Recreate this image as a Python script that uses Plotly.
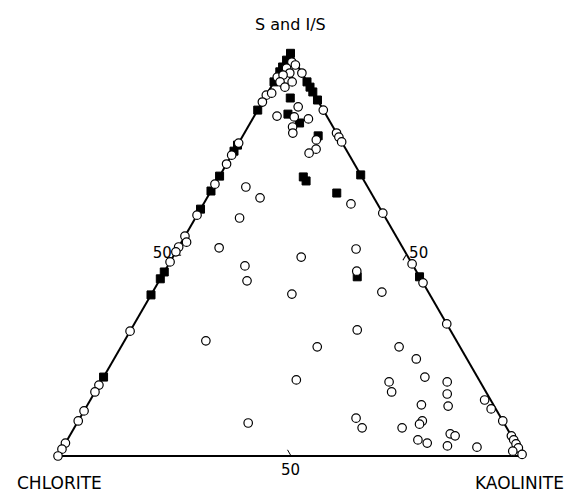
import plotly.graph_objects as go

# Ternary data: (S and I/S, Chlorite, Kaolinite) in percent
# Open circles
open_s = [89.6, 87.9, 77.7, 74.7, 72.5, 67.5, 59.8, 54.6, 51.9, 50.7, 48.2, 31.0, 17.6, 15.9, 11.2, 8.7, 3.2, 1.7, 0.0,
          53.1, 94.1,
          95.1, 85.9, 80.2, 79.2, 78.0, 60.3, 47.7, 43.0, 32.8, 8.7, 5.0, 4.0, 3.0, 2.0, 0.4,
          97.8, 97.1, 96.3, 95.1, 94.6, 92.9, 91.6, 92.9, 90.1, 86.7, 84.4, 84.2, 83.7, 81.7, 80.2, 78.5, 76.2, 75.2,
          62.6, 66.8, 64.1, 59.1, 51.7, 47.2, 43.5, 49.4, 40.2, 51.4, 45.9, 40.7, 31.3, 28.6, 27.1, 18.9, 8.2, 9.4, 7.0,
          27.1, 24.1, 19.6, 18.4, 15.9, 18.4, 15.4, 12.4, 12.7, 8.7, 7.9, 7.0, 4.0, 3.2, 5.5, 5.0, 2.5, 2.2, 13.9, 11.7, 1.2]
open_chl = [10.4, 12.1, 22.3, 25.3, 27.5, 32.5, 40.2, 45.4, 48.1, 49.3, 51.8, 69.0, 82.4, 84.1, 88.8, 91.3, 96.8, 98.3, 100.0,
            45.8, 5.8,
            0, 0, 0, 0, 0, 0, 0, 0, 0, 0, 0, 0, 0, 0, 0,
            0.8, 0.4, 2.7, 2.6, 4.3, 5.8, 5.4, 3.2, 9.0, 5.0, 10.7, 7.1, 4.3, 8.7, 9.4, 5.2, 6.4, 8.4,
            5.7, 26.2, 24.5, 31.4, 39.5, 36.2, 37.6, 23.0, 29.6, 10.2, 12.8, 10.0, 20.0, 53.9, 30.7, 39.3, 55.0, 31.2, 31.1,
            13.1, 10.9, 11.3, 19.6, 20.3, 7.1, 8.6, 9.9, 15.5, 17.3, 18.3, 22.5, 20.6, 19.0, 12.9, 12.1, 15.0, 8.8, 1.3, 1.0, 1.6]
open_kao = [0, 0, 0, 0, 0, 0, 0, 0, 0, 0, 0, 0, 0, 0, 0, 0, 0, 0, 0,
            1.1, 0.1,
            4.9, 14.1, 19.8, 20.8, 22.0, 39.7, 52.3, 57.0, 67.2, 91.3, 95.0, 96.0, 97.0, 98.0, 99.6,
            1.4, 2.5, 1.0, 2.3, 1.1, 1.3, 3.0, 3.9, 0.9, 8.3, 4.9, 8.7, 12.0, 9.6, 10.4, 16.3, 17.4, 16.4,
            31.7, 7.0, 11.4, 9.5, 8.8, 16.6, 18.9, 27.6, 30.2, 38.4, 41.3, 49.3, 48.7, 17.5, 42.2, 41.8, 36.8, 59.4, 61.9,
            59.8, 65.0, 69.1, 62.0, 63.8, 74.5, 76.0, 77.7, 71.8, 74.0, 73.8, 70.5, 75.4, 77.8, 81.6, 82.9, 82.5, 89.0, 84.8, 87.3, 97.2]

# Filled squares
fill_s = [100.0, 98.3, 96.6, 95.4, 92.9, 85.9, 77.2, 75.7, 69.5, 65.8, 61.3, 45.7, 44.0, 40.0, 19.6,
          92.9, 91.6, 90.4, 88.4, 69.8, 44.5,
          88.9, 84.9, 82.7, 79.5, 69.3, 68.3, 65.3, 44.5]
fill_chl = [0.0, 1.7, 3.4, 4.6, 7.1, 14.1, 22.8, 24.3, 30.5, 34.2, 38.7, 54.3, 56.0, 60.0, 80.4,
            0, 0, 0, 0, 0, 0,
            5.6, 8.1, 6.7, 4.3, 12.6, 12.5, 7.4, 13.4]
fill_kao = [0, 0, 0, 0, 0, 0, 0, 0, 0, 0, 0, 0, 0, 0, 0,
            7.1, 8.4, 9.6, 11.6, 30.2, 55.5,
            5.5, 7.0, 10.6, 16.2, 18.1, 19.2, 27.3, 42.1]

tick_vals = [50]
tick_text = ["50"]

FONT = "DejaVu Sans"

fig = go.Figure()
fig.add_trace(go.Scatterternary(
    a=fill_s, b=fill_chl, c=fill_kao, mode="markers", cliponaxis=False,
    marker=dict(symbol="square", size=8, color="black", line=dict(color="black", width=1)),
    hoverinfo="skip", showlegend=False))
fig.add_trace(go.Scatterternary(
    a=open_s, b=open_chl, c=open_kao, mode="markers", cliponaxis=False,
    marker=dict(symbol="circle", size=8.5, color="white", line=dict(color="black", width=1.2)),
    hoverinfo="skip", showlegend=False))

axis_common = dict(
    title=dict(text=""),
    showgrid=False, showline=True, linecolor="black", linewidth=2,
    tickmode="array", tickvals=tick_vals, ticktext=tick_text,
    ticks="inside", ticklen=6, tickwidth=1.2, tickcolor="black",
    tickfont=dict(family=FONT, size=15, color="black"),
    min=0, layer="below traces",
)

fig.update_layout(
    width=577, height=493,
    margin=dict(l=0, r=0, t=0, b=0),
    paper_bgcolor="white",
    ternary=dict(
        sum=100,
        bgcolor="white",
        domain=dict(x=[55.5 / 577, 525.5 / 577], y=[37 / 493, 439.7 / 493]),
        aaxis=axis_common, baxis=axis_common, caxis=axis_common,
    ),
    annotations=[
        dict(text="S and I/S", x=290 / 577, y=1 - 25 / 493, xref="paper", yref="paper",
             showarrow=False, xanchor="center", yanchor="middle",
             font=dict(family=FONT, size=16, color="black")),
        dict(text="CHLORITE", x=59 / 577, y=1 - 483 / 493, xref="paper", yref="paper",
             showarrow=False, xanchor="center", yanchor="middle",
             font=dict(family=FONT, size=17, color="black")),
        dict(text="KAOLINITE", x=519 / 577, y=1 - 483 / 493, xref="paper", yref="paper",
             showarrow=False, xanchor="center", yanchor="middle",
             font=dict(family=FONT, size=17, color="black")),
    ],
)

fig.write_html("out.html", config={"displayModeBar": False},
               post_script="document.body.style.margin='0';")
